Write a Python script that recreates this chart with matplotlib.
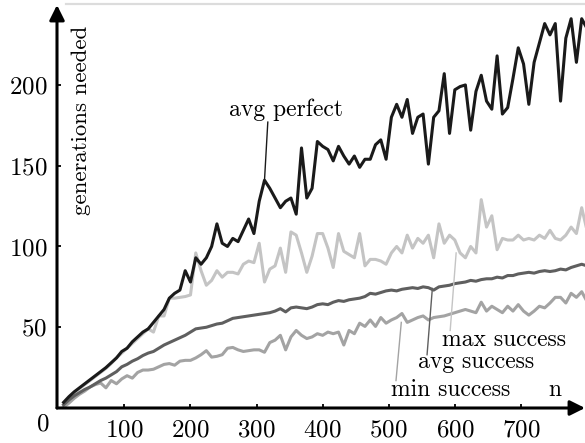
import numpy as np
import matplotlib
matplotlib.use("Agg")
import matplotlib.pyplot as plt
from matplotlib.lines import Line2D

plt.rcParams['font.family'] = ['cmr10', 'DejaVu Serif']
plt.rcParams['axes.formatter.use_mathtext'] = True

# problem size n (one point every 8)
n = np.arange(8, 801, 8)

avg_perfect = [3.5, 7, 10, 12.5, 15, 17.5, 20, 22.5, 25, 28,
               31, 35, 37, 41, 44, 47, 49, 53, 57, 61,
               68, 71, 73, 85, 78, 93, 89, 93, 100, 114,
               102, 100, 105, 103, 110, 117, 108, 128, 141, 136,
               130, 124, 128, 130, 120, 161, 130, 136, 165, 162,
               160, 153, 162, 156, 151, 156, 149, 154, 154, 163,
               166, 154, 180, 188, 180, 191, 170, 180, 182, 151,
               180, 184, 207, 170, 197, 199, 200, 172, 196, 206,
               190, 185, 218, 182, 186, 204, 223, 213, 188, 214,
               226, 238, 231, 238, 190, 229, 241, 214, 241, 235]

max_success = [2, 5.5, 9, 12, 14.5, 17, 19.5, 22, 24.5, 27.5,
               31, 34, 37, 40, 43, 46, 49, 47, 57, 57,
               68, 68, 68.5, 69, 70, 96, 85, 76, 79, 85,
               81, 84, 84, 83, 89, 91, 90, 102, 78, 86,
               88, 99, 84, 109, 107, 96, 84, 94, 108, 108,
               99, 87, 108, 97, 95, 93, 108, 88, 92, 92,
               91, 89, 96, 100, 96, 107, 99, 105, 102, 107,
               93, 114, 102, 107, 104, 96, 93, 100, 96, 129,
               112, 119, 98, 105, 104, 104, 107, 104, 105, 104,
               107, 105, 110, 105, 104, 107, 112, 108, 124, 110]

avg_success = [2, 5, 7.5, 9.5, 11.5, 13, 15, 17, 18.5, 20.5,
               22.5, 25.5, 27, 29, 30.5, 32.5, 34, 35, 37, 39,
               40.5, 42, 43.5, 45, 47, 49, 49.5, 50, 51, 52,
               52.5, 54, 55.5, 56, 56.5, 57, 57.5, 58, 58.5, 59,
               60, 61.5, 59.5, 62, 62.5, 62, 61.5, 62.5, 64, 64.5,
               64, 65.5, 66.5, 66, 67, 67.5, 68, 69, 71, 70.5,
               71.5, 72.5, 73, 72.5, 73.5, 74, 74.5, 74, 75, 74.5,
               73, 75, 75.5, 76, 77, 77.5, 78, 79, 78.5, 79.5,
               80, 80, 81, 80.5, 82, 82, 83, 83.5, 84, 83.5,
               84.5, 85, 84.5, 85, 86, 85.5, 87, 88, 89, 88]

min_success = [0.5, 3, 6, 8.5, 10.5, 13, 14.5, 15.5, 12.5, 17,
               15, 18, 20, 18.5, 22, 23.5, 23.5, 24, 25.5, 27,
               27.5, 26.5, 29, 29.5, 29.5, 31, 33, 35.5, 31.5, 32,
               33, 37, 37.5, 36, 35, 35.5, 36, 36, 34.5, 40.5,
               42, 45, 36, 44, 48, 45, 43, 44, 46, 45,
               47, 46, 47, 39, 48, 46, 52.5, 50.5, 54.5, 50.5,
               56, 52.5, 54.5, 56, 58.5, 53, 54.5, 56, 57, 54.5,
               56, 56.5, 57, 58, 59, 60, 61, 60, 59, 65.5,
               60, 63, 61, 59, 63, 60, 64, 60, 57.5, 60,
               63, 62, 65, 68.5, 68.5, 65, 71, 68.5, 72, 66]

xticks = [100, 200, 300, 400, 500, 600, 700]
yticks = [50, 100, 150, 200]

c_perf = '#1a1a1a'
c_max = '#c4c4c4'
c_min = '#a3a3a3'
c_avg = '#5f5f5f'

fig = plt.figure(figsize=(5.85, 4.43), dpi=100)
ax = fig.add_axes([57/585, 1-408/443, 528/585, 403/443])

ax.plot(n, max_success, color=c_max, lw=2.2)
ax.plot(n, min_success, color=c_min, lw=2.2)
ax.plot(n, avg_success, color=c_avg, lw=2.2)
ax.plot(n, avg_perfect, color=c_perf, lw=2.2)

ax.set_xlim(-2, 797)
ax.set_ylim(0, 249.5)

for s in ax.spines.values():
    s.set_visible(False)

# axes with arrow heads
arr = dict(arrowstyle='-|>,head_length=0.9,head_width=0.45', color='black',
           lw=2.2, shrinkA=0, shrinkB=0, mutation_scale=10)
ax.annotate('', xy=(0, 1), xytext=(0, 0), xycoords='axes fraction',
            textcoords='axes fraction', arrowprops=arr, annotation_clip=False)
ax.annotate('', xy=(1, 0), xytext=(0, 0), xycoords='axes fraction',
            textcoords='axes fraction', arrowprops=arr, annotation_clip=False)

ax.set_xticks(xticks)
ax.set_yticks(yticks)
ax.tick_params(direction='in', length=3, width=1.3, labelsize=18, pad=7)
ax.tick_params(axis='x', pad=8)
ax.patch.set_visible(False)

fig.text(43/585, 1-424/443, '0', ha='center', va='center', fontsize=18)

ax.text(0.045, 0.948, 'generations needed', rotation=90, transform=ax.transAxes,
        ha='center', va='top', fontsize=16.5)

# labels with leader lines
fs = 17
ax.text(259, 181, 'avg perfect', fontsize=fs, ha='left', va='baseline')
ax.plot([317, 312], [177, 141], color=c_perf, lw=1.0)

ax.text(581, 38.5, 'max success', fontsize=fs, ha='left', va='baseline')
ax.plot([593, 602], [48, 96], color=c_max, lw=1.0)

ax.text(545, 25, 'avg success', fontsize=fs, ha='left', va='baseline')
ax.plot([558, 566], [33, 74], color=c_avg, lw=1.0)

ax.text(504, 7.5, 'min success', fontsize=fs, ha='left', va='baseline')
ax.plot([511, 519], [17, 53], color=c_min, lw=1.0)

ax.text(741, 7.5, 'n', fontsize=fs, ha='left', va='baseline')

# faint rule along the top edge
fig.add_artist(Line2D([66/585, 1], [1-3.5/443, 1-3.5/443], color='#dcdcdc', lw=1.6))

fig.savefig('out.png', dpi=100)
